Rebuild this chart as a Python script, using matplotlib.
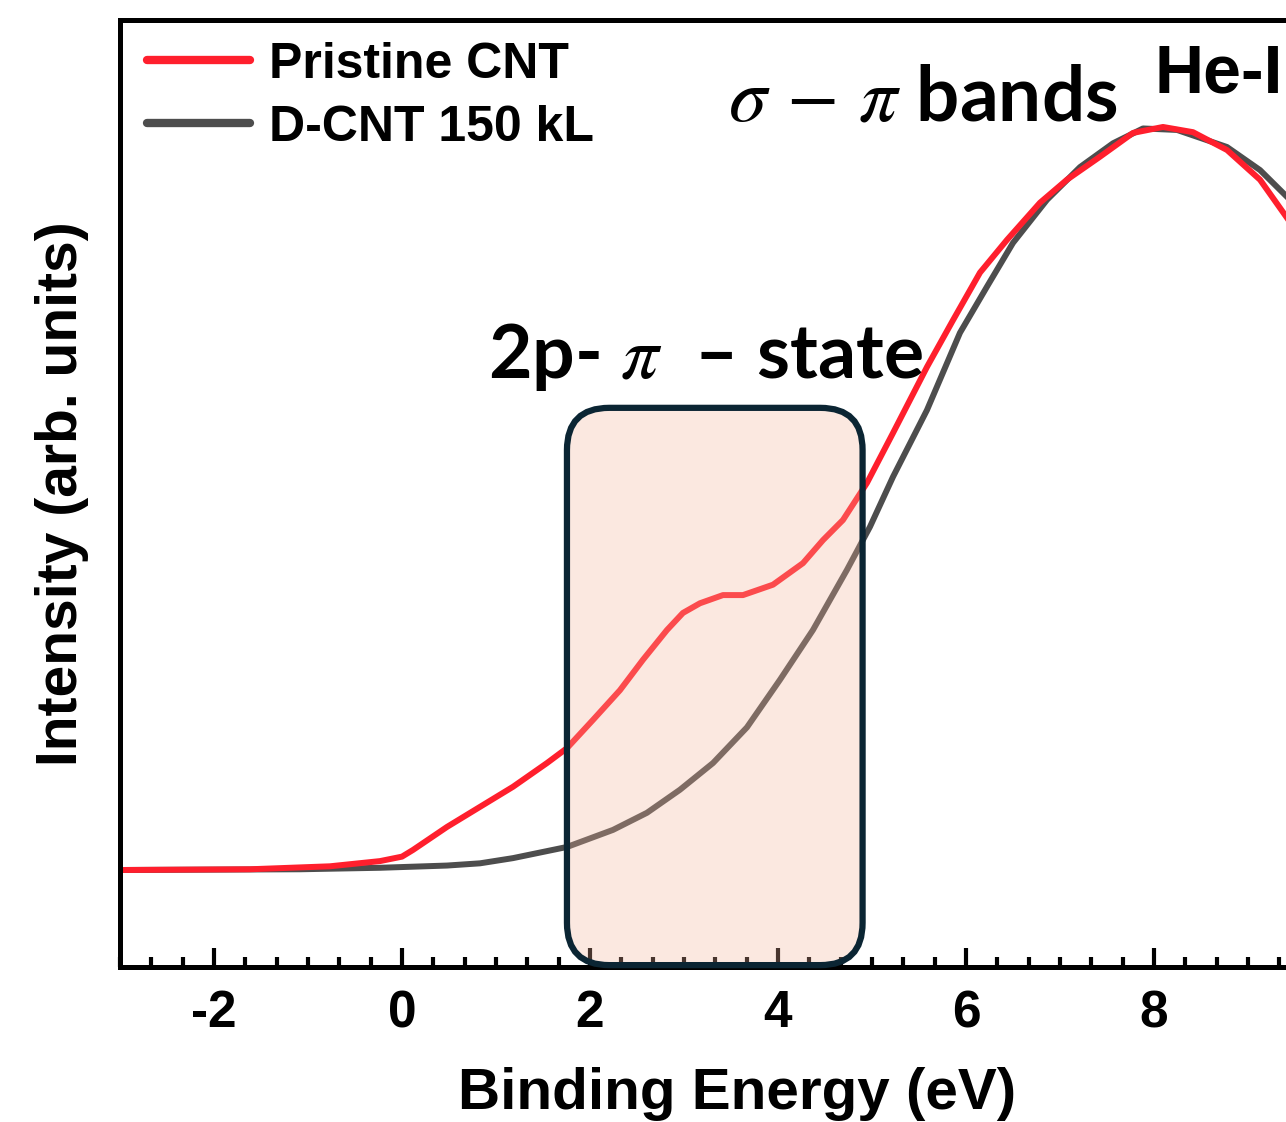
import matplotlib
matplotlib.use("Agg")
import matplotlib.pyplot as plt
from matplotlib.patches import FancyBboxPatch
from matplotlib.ticker import AutoMinorLocator

# binding energy (eV) and normalised intensity
pristine_x = [-3.0, -1.617, -0.766, -0.234, 0.0, 0.117, 0.479, 0.830, 1.181, 1.543, 1.755, 2.032,
              2.319, 2.564, 2.819, 2.989, 3.170, 3.415, 3.628, 3.947, 4.266, 4.479, 4.691, 4.947,
              5.223, 5.585, 5.862, 6.149, 6.436, 6.787, 7.074, 7.426, 7.777, 8.096, 8.415, 8.777,
              9.128, 9.447]
pristine_y = [0.0, 0.001, 0.005, 0.012, 0.018, 0.027, 0.058, 0.085, 0.112, 0.144, 0.164, 0.202,
              0.242, 0.283, 0.323, 0.346, 0.359, 0.370, 0.370, 0.384, 0.413, 0.444, 0.471, 0.521,
              0.588, 0.677, 0.740, 0.804, 0.848, 0.898, 0.929, 0.960, 0.992, 1.0, 0.993, 0.969,
              0.929, 0.872]

dcnt_x = [-3.0, -1.085, -0.234, 0.479, 0.830, 1.181, 1.755, 2.245, 2.606, 2.957, 3.309, 3.670,
          4.021, 4.372, 4.734, 4.979, 5.223, 5.585, 5.936, 6.223, 6.500, 6.862, 7.213, 7.564,
          7.883, 8.245, 8.777, 9.128, 9.447]
dcnt_y = [0.0, 0.001, 0.003, 0.006, 0.009, 0.016, 0.031, 0.054, 0.077, 0.108, 0.144, 0.192,
          0.256, 0.323, 0.404, 0.462, 0.529, 0.619, 0.723, 0.785, 0.844, 0.902, 0.946, 0.978,
          0.998, 0.996, 0.973, 0.942, 0.902]

labels = ["Pristine CNT", "D-CNT 150 kL"]
xticks = [-2, 0, 2, 4, 6, 8]

sans = ["Liberation Sans", "DejaVu Sans"]
plt.rcParams["mathtext.fontset"] = "stix"
plt.rcParams["axes.unicode_minus"] = False

fig = plt.figure(figsize=(12.86, 11.22), dpi=100)
# axes runs past the right edge, like the cropped original
ax = fig.add_axes([0.0933, 0.1381, 1.0, 0.8441])

l2, = ax.plot(dcnt_x, dcnt_y, color="#4d4d4d", lw=4.3, label=labels[1])
l1, = ax.plot(pristine_x, pristine_y, color="#ff1f2d", lw=4.3, label=labels[0])

ax.set_xlim(-3.0, -3.0 + 1286 / 94.0)
ax.set_ylim(-0.1306, 1.144)

ax.set_xticks(xticks)
ax.xaxis.set_minor_locator(AutoMinorLocator(6))
ax.set_yticks([])
ax.tick_params(axis="x", which="major", direction="in", length=14, width=3, pad=16)
ax.tick_params(axis="x", which="minor", direction="in", length=7, width=3)
for lab in ax.get_xticklabels():
    lab.set_fontfamily(sans)
    lab.set_fontweight("bold")
    lab.set_fontsize(37)
for sp in ax.spines.values():
    sp.set_linewidth(3.6)

ax.set_xlabel("Binding Energy (eV)", fontsize=42, fontweight="bold", family=sans,
              labelpad=21, x=0.48)
ax.set_ylabel("Intensity (arb. units)", fontsize=41, fontweight="bold", family=sans, labelpad=22)

leg = ax.legend(handles=[l1, l2], loc="upper left", bbox_to_anchor=(-0.006, 1.014), frameon=False,
                prop={"family": sans, "weight": "bold", "size": 36}, handlelength=2.05,
                handletextpad=0.38, labelspacing=0.34, borderaxespad=0.3)
for h in leg.get_lines():
    h.set_linewidth(6)
    h.set_solid_capstyle("round")

# highlighted 2p-pi region
box = FancyBboxPatch((1.755, -0.128), 4.90 - 1.755, 0.622 + 0.128,
                     boxstyle="round,pad=0,rounding_size=0.45", mutation_aspect=0.1265,
                     facecolor=(0.95, 0.70, 0.60, 0.3), edgecolor="#0b2533", lw=4.5,
                     clip_on=False, zorder=5)
ax.add_patch(box)

ax.text(3.47, 1.009, r"$\sigma\,-\,\pi$ bands", fontsize=55, fontweight="bold", family="Lato",
        ha="left", va="baseline")
ax.text(0.915, 0.662, r"2p- $\pi$  – state", fontsize=54, fontweight="bold", family="Lato",
        ha="left", va="baseline")
ax.text(8.01, 1.046, "He-I", fontsize=49, fontweight="bold", family=sans,
        ha="left", va="baseline")

fig.savefig("out.png", dpi=100)
